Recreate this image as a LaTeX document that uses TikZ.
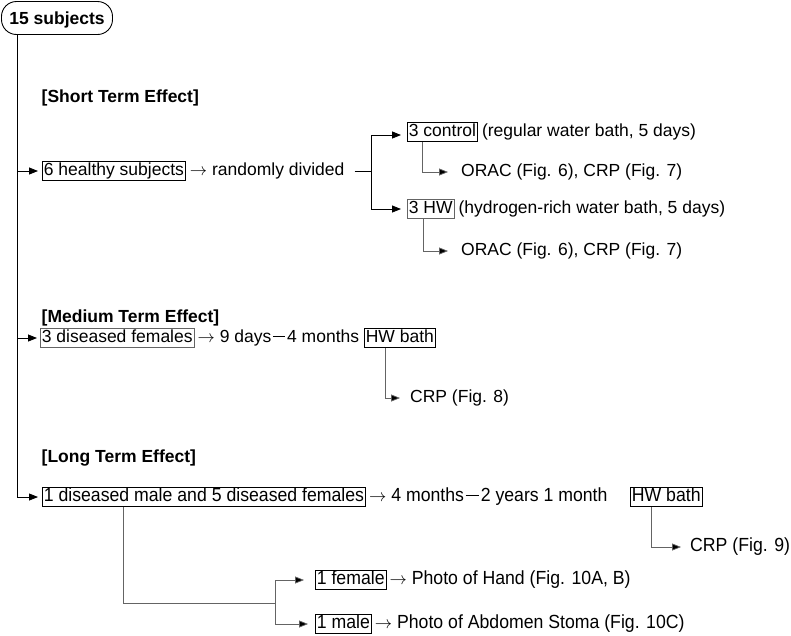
\documentclass[tikz,border=0pt]{standalone}
\usepackage{fontspec}
\setmainfont{Liberation Sans}
\newfontfamily\narrowsf{Liberation Sans}[FakeStretch=0.93]
\usetikzlibrary{arrows.meta}
\definecolor{lgray}{RGB}{100,100,100}
\newcommand\mydash{\hspace{1.5pt}\rule[0.32em]{0.7em}{0.06em}\hspace{2pt}}
\begin{document}
\begin{tikzpicture}[x=1pt,y=-1pt,
  every node/.style={font=\fontsize{17.5}{21}\selectfont, inner xsep=1.5pt, inner ysep=1pt, text height=13.5pt, text depth=4pt},
  bx/.style={draw, line width=0.7pt, anchor=west},
  tx/.style={anchor=west, inner xsep=4pt},
  hd/.style={anchor=west, font=\fontsize{17.5}{21}\selectfont\bfseries},
  lt/.style={font=\fontsize{19}{22}\selectfont\narrowsf},
  arr/.style={line width=0.8pt, -{Triangle[length=9pt,width=7pt]}},
  garr/.style={line width=0.7pt, draw=lgray, -{Triangle[length=9pt,width=7pt,fill=black]}},
  gl/.style={line width=0.7pt, draw=lgray}]
\useasboundingbox (0,0) rectangle (791,635);

% root
\node[draw, rounded corners=15pt, line width=0.9pt, font=\fontsize{17.5}{21}\selectfont\bfseries,
      minimum height=33pt, minimum width=111pt, text height=13pt, text depth=0pt] (s15) at (57,18) {15 subjects};
\coordinate (tk) at (17,0);

% headings
\node[hd] (hs) at (40,98) {[Short Term Effect]};
\node[hd] (hm) at (40,318) {[Medium Term Effect]};
\node[hd] (hl) at (40,458) {[Long Term Effect]};

% short term
\node[bx] (h6) at (42,171) {6 healthy subjects};
\node[tx] (rd) at (h6.east) {$\rightarrow$ randomly divided};
\coordinate (b1) at (371,171);
\node[bx] (ctl) at (407,132) {3 control};
\node[tx] (ctlt) at (ctl.east) {(regular water bath, 5 days)};
\coordinate (c1) at (407,135);
\node[tx, inner xsep=3pt] (o1) at (458,172) {ORAC (Fig. 6), CRP (Fig. 7)};
\node[bx, draw=lgray] (hw1) at (407,209) {3 HW};
\node[tx] (hw1t) at (hw1.east) {(hydrogen-rich water bath, 5 days)};
\node[tx, inner xsep=3pt] (o2) at (458,251) {ORAC (Fig. 6), CRP (Fig. 7)};

% medium term
\node[bx, draw=lgray] (d3) at (40,338) {3 diseased females};
\node[tx, inner xsep=3pt] (m2) at (d3.east) {$\rightarrow$ 9 days\mydash 4 months};
\node[bx] (hw2) at (364,338) {HW bath};
\node[tx, inner xsep=3pt] (c8) at (407,398) {CRP (Fig. 8)};

% long term
\node[bx, lt] (l3) at (42,497) {1 diseased male and 5 diseased females};
\node[tx, lt, inner xsep=3pt] (m3) at (l3.east) {$\rightarrow$ 4 months\mydash 2 years 1 month};
\node[bx, lt] (hw3) at (630,497) {HW bath};
\node[tx, lt, inner xsep=2pt] (c9) at (688,547) {CRP (Fig. 9)};
\node[bx, lt] (f1) at (315,580) {1 female};
\node[tx, lt, inner xsep=3pt] (f1t) at (f1.east) {$\rightarrow$ Photo of Hand (Fig. 10A, B)};
\node[bx, lt] (m1) at (315,624) {1 male};
\node[tx, lt, inner xsep=3pt] (m1t) at (m1.east) {$\rightarrow$ Photo of Abdomen Stoma (Fig. 10C)};
\coordinate (b3) at (275,603);

% connectors
\draw[arr, shorten >=4pt] (s15.south -| tk) |- (l3.west);
\draw[arr, shorten >=4pt] (tk |- h6.west) -- (h6.west);
\draw[arr, shorten >=3pt] (tk |- d3.west) -- (d3.west);

\draw[line width=0.8pt] ([xshift=6pt]rd.east) -- (b1);
\draw[arr, shorten >=6pt] (b1) |- (c1);
\draw[arr, shorten >=6pt] (b1) |- (hw1.west);
\draw[garr, shorten >=10pt] ([xshift=15pt]ctl.south west) |- (o1.west);
\draw[garr, shorten >=10pt] ([xshift=16pt]hw1.south west) |- (o2.west);

\draw[garr, shorten >=7pt] ([xshift=21pt]hw2.south west) |- (c8.west);

\draw[garr, shorten >=7pt] ([xshift=21pt]hw3.south west) |- (c9.west);
\draw[gl] ([xshift=81pt]l3.south west) |- (b3);
\draw[garr, shorten >=11pt] (b3) |- (f1.west);
\draw[garr, shorten >=7pt] (b3) |- (m1.west);
\end{tikzpicture}
\end{document}
